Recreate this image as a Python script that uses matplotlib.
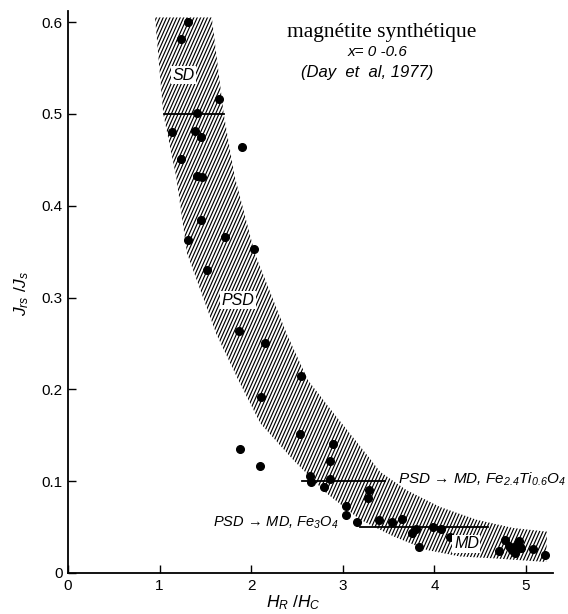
import numpy as np
import matplotlib
matplotlib.use("Agg")
import matplotlib.pyplot as plt
from matplotlib.patches import Polygon
from matplotlib.collections import LineCollection

plt.rcParams['font.family'] = ['Liberation Sans', 'DejaVu Sans']
plt.rcParams['mathtext.fontset'] = 'custom'
plt.rcParams['mathtext.rm'] = 'Liberation Sans:italic'
plt.rcParams['mathtext.it'] = 'Liberation Sans:italic'
plt.rcParams['mathtext.bf'] = 'Liberation Sans:italic:bold'

# ---- data ----
hr_hc = [1.31, 1.23, 1.65, 1.41, 1.135, 1.39, 1.45, 1.90, 1.23, 1.41, 1.46,
         1.45, 1.31, 1.71, 2.03, 1.52, 1.87, 2.15, 2.54, 2.11, 2.53, 2.89,
         1.88, 2.86, 2.10, 2.64, 2.65, 2.86, 2.79, 3.29, 3.28, 3.04, 3.03,
         3.15, 3.40, 3.54, 3.65, 3.80, 3.76, 3.83, 3.98, 4.07, 4.17, 4.71,
         4.77, 4.81, 4.85, 4.92, 4.89, 4.95, 4.88, 5.08, 5.21]
jrs_js = [0.600, 0.582, 0.516, 0.501, 0.480, 0.481, 0.475, 0.464, 0.451, 0.432, 0.431,
          0.384, 0.363, 0.366, 0.353, 0.330, 0.264, 0.251, 0.215, 0.192, 0.151, 0.140,
          0.135, 0.122, 0.117, 0.106, 0.099, 0.102, 0.094, 0.090, 0.082, 0.073, 0.063,
          0.055, 0.058, 0.055, 0.059, 0.048, 0.044, 0.028, 0.050, 0.048, 0.039, 0.024,
          0.036, 0.029, 0.025, 0.035, 0.029, 0.027, 0.022, 0.026, 0.020]

# band boundaries (lower-left edge and upper-right edge)
band_low_x = [0.95, 1.04, 1.18, 1.30, 1.62, 1.86, 2.10, 2.46, 2.82, 3.19, 3.55, 3.92, 4.28, 4.64, 5.22]
band_low_y = [0.605, 0.50, 0.432, 0.348, 0.260, 0.210, 0.163, 0.123, 0.087, 0.058, 0.040, 0.025, 0.018, 0.016, 0.012]
band_up_x = [1.57, 1.70, 1.82, 2.04, 2.39, 2.62, 2.90, 3.19, 3.41, 3.70, 4.06, 4.46, 4.86, 5.23]
band_up_y = [0.605, 0.50, 0.432, 0.348, 0.260, 0.210, 0.174, 0.138, 0.110, 0.090, 0.072, 0.058, 0.049, 0.045]

# horizontal boundary segments
seg_y = [0.50, 0.10, 0.05]
seg_x0 = [1.05, 2.55, 3.19]
seg_x1 = [1.70, 3.46, 4.59]

x_ticks = [0, 1, 2, 3, 4, 5]
x_ticklabels = ['0', '1', '2', '3', '4', '5']
y_ticks = [0, 0.1, 0.2, 0.3, 0.4, 0.5, 0.6]
y_ticklabels = ['0', '0.1', '0.2', '0.3', '0.4', '0.5', '0.6']

W, H = 568, 614
fig = plt.figure(figsize=(W / 100, H / 100), dpi=100)
ax_l, ax_b, ax_w, ax_h = 68, 41, 485, 562
ax = fig.add_axes([ax_l / W, ax_b / H, ax_w / W, ax_h / H])
ax.set_xlim(0, 5.295)
ax.set_ylim(0, 0.612)

# band polygon
verts = np.column_stack([np.concatenate([band_low_x, band_up_x[::-1]]),
                         np.concatenate([band_low_y, band_up_y[::-1]])])
band = Polygon(verts, closed=True, facecolor='none', edgecolor='none')
ax.add_patch(band)

# steep hatch lines clipped to the band
ang = np.deg2rad(66)
s = np.tan(ang) * ax_w / ax_h
dx = 3.4 / ax_w
segs = []
u = -1.0 / s - 0.05
while u < 1.05:
    segs.append([(u, 0), (u + 1.0 / s, 1)])
    u += dx
lc = LineCollection(segs, colors='black', linewidths=0.85, transform=ax.transAxes)
ax.add_collection(lc, autolim=False)
lc.set_clip_path(band)

# horizontal segments
for y, a, b in zip(seg_y, seg_x0, seg_x1):
    ax.plot([a, b], [y, y], color='black', lw=1.3, zorder=4)

# points
ax.plot(hr_hc, jrs_js, 'o', color='black', markersize=5.5, clip_on=False, zorder=5)

# region labels
box = dict(facecolor='white', edgecolor='none', pad=1.2)
ax.text(1.26, 0.542, 'SD', style='italic', fontsize=11.5, ha='center', va='center', bbox=box, zorder=6)
ax.text(1.86, 0.297, 'PSD', style='italic', fontsize=11.5, ha='center', va='center', bbox=box, zorder=6)
ax.text(4.35, 0.032, 'MD', style='italic', fontsize=11.5, ha='center', va='center', bbox=box, zorder=6)
ax.text(3.60, 0.102, 'PSD \u2192 MD, Fe$_{2.4}$Ti$_{0.6}$O$_4$', style='italic', fontsize=11,
        ha='left', va='center', clip_on=False, zorder=6)
ax.text(1.58, 0.055, 'PSD \u2192 MD, Fe$_3$O$_4$', style='italic', fontsize=10.5,
        ha='left', va='center', zorder=6)

# title block
fig.text(382 / W, 1 - 32 / H, 'magnétite synthétique', family='Liberation Serif',
         fontsize=15.5, ha='center', va='center')
fig.text(378 / W, 1 - 52 / H, 'x= 0 -0.6', style='italic', fontsize=11, ha='center', va='center')
fig.text(367 / W, 1 - 72 / H, '(Day  et  al, 1977)', style='italic', fontsize=12, ha='center', va='center')

# axes styling
for sp in ['top', 'right']:
    ax.spines[sp].set_visible(False)
for sp in ['left', 'bottom']:
    ax.spines[sp].set_linewidth(1.3)
ax.set_xticks(x_ticks)
ax.set_xticklabels(x_ticklabels)
ax.set_yticks(y_ticks)
ax.set_yticklabels(y_ticklabels)
ax.tick_params(direction='in', length=6, width=1, labelsize=11, pad=4)

fig.text(22 / W, 1 - 293 / H, '$J_{rs}$ /$J_s$', rotation=90, fontsize=12.5, ha='center', va='center')
fig.text(293 / W, 1 - 603 / H, '$H_R$ /$H_C$', fontsize=12.5, ha='center', va='center')

fig.savefig('out.png', dpi=100)
